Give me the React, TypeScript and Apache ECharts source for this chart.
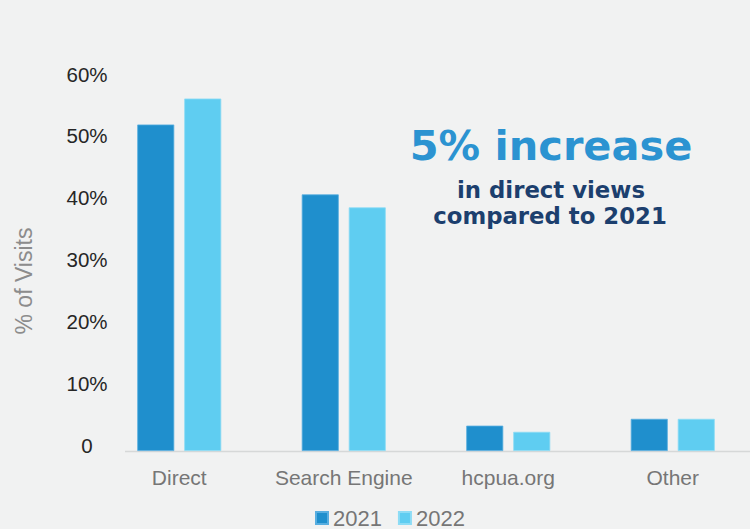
import React, { useEffect, useRef } from "react";
import * as echarts from "echarts";

const categories = ["Direct", "Search Engine", "hcpua.org", "Other"];
const seriesNames = ["2021", "2022"];
const values2021 = [52.8, 41.5, 4.1, 5.2];
const values2022 = [57.0, 39.4, 3.1, 5.2];
const yTicks = { min: 0, max: 60, interval: 10 };
const yAxisTitle = "% of Visits";
const headline = "5% increase";
const subLine1 = "in direct views";
const subLine2 = "compared to 2021";

const C2021 = "#1f8fcd";
const C2022 = "#5fcdf1";

export default function App() {
  const ref = useRef<HTMLDivElement>(null);
  useEffect(() => {
    if (!ref.current) return;
    const chart = echarts.init(ref.current, null, { renderer: "svg" });
    const font = "'Liberation Sans', Arial, sans-serif";
    const bold = "'DejaVu Sans', sans-serif";
    chart.setOption({
      animation: false,
      backgroundColor: "#f1f2f2",
      grid: { left: 97, right: 5, top: 80, bottom: 78, containLabel: false },
      legend: {
        data: seriesNames,
        left: 310,
        top: 501,
        icon: "rect",
        itemWidth: 12,
        itemHeight: 12,
        itemGap: 16,
        textStyle: { fontFamily: font, fontSize: 22, lineHeight: 24, color: "#767676" },
      },
      xAxis: {
        type: "category",
        data: categories,
        axisLine: { show: false },
        axisTick: { show: false },
        axisLabel: { interval: 0, fontFamily: font, fontSize: 21, color: "#767676", margin: 16 },
      },
      yAxis: {
        type: "value",
        min: yTicks.min,
        max: yTicks.max,
        interval: yTicks.interval,
        splitLine: { show: false },
        axisLine: { show: false },
        axisTick: { show: false },
        axisLabel: {
          fontFamily: font,
          fontSize: 20.5,
          color: "#262626",
          align: "center",
          margin: 10,
          verticalAlign: "bottom",
          lineHeight: 12,
          formatter: (v: number) => (v === 0 ? "0" : v + "%"),
        },
      },
      series: [
        {
          name: seriesNames[0],
          type: "bar",
          data: values2021,
          barWidth: 37,
          barGap: "27%",
          itemStyle: { color: C2021, borderColor: "#58aee0", borderWidth: 0.8 },
          z: 3,
        },
        {
          name: seriesNames[1],
          type: "bar",
          data: values2022,
          barWidth: 37,
          itemStyle: { color: C2022, borderColor: "#8ddcf5", borderWidth: 0.8 },
          z: 3,
        },
      ],
      graphic: [
        {
          type: "line",
          shape: { x1: 125, y1: 451.5, x2: 750, y2: 451.5 },
          style: { stroke: "#d6d8d8", lineWidth: 1.5 },
          z: 1,
        },
        {
          type: "text",
          x: 24,
          y: 281,
          rotation: Math.PI / 2,
          style: {
            text: yAxisTitle,
            fontFamily: font,
            fontSize: 23,
            fill: "#8c8c8c",
            align: "center",
            verticalAlign: "middle",
          },
        },
        {
          type: "text",
          x: 551,
          y: 145.5,
          style: {
            text: headline,
            fontFamily: bold,
            fontWeight: "bold",
            fontSize: 41.5,
            fill: "#2b93d1",
            align: "center",
            verticalAlign: "middle",
          },
        },
        {
          type: "text",
          x: 551,
          y: 189.5,
          style: {
            text: subLine1,
            fontFamily: bold,
            fontWeight: "bold",
            fontSize: 22.8,
            fill: "#1c3f6e",
            align: "center",
            verticalAlign: "middle",
          },
        },
        {
          type: "text",
          x: 550,
          y: 216,
          style: {
            text: subLine2,
            fontFamily: bold,
            fontWeight: "bold",
            fontSize: 22.8,
            fill: "#1c3f6e",
            align: "center",
            verticalAlign: "middle",
          },
        },
      ],
    });
    return () => chart.dispose();
  }, []);
  return (
    <div
      style={{
        position: "absolute",
        left: 0,
        top: 0,
        width: 750,
        height: 529,
        overflow: "hidden",
      }}
    >
      <div ref={ref} style={{ width: 760, height: 529 }} />
    </div>
  );
}
